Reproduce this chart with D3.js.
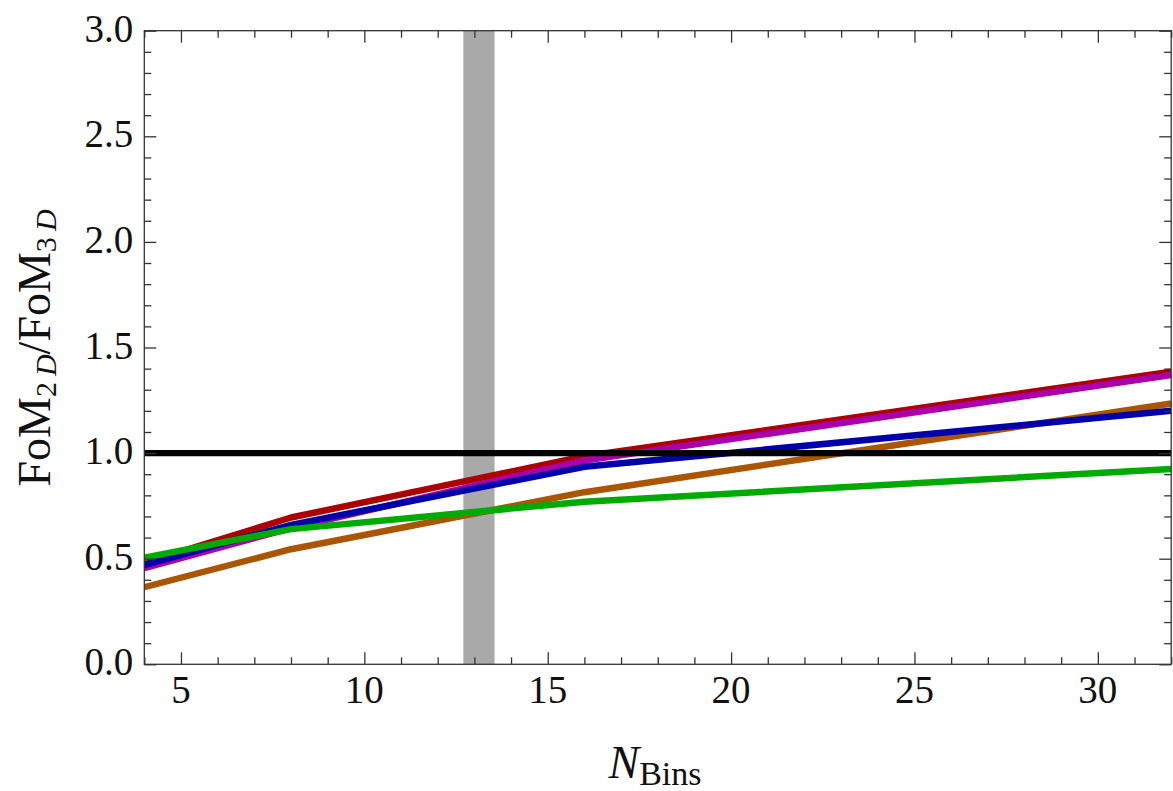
<!DOCTYPE html>
<html>
<head>
<meta charset="utf-8">
<script src="https://cdn.jsdelivr.net/npm/d3@7"></script>
<style>
  html, body { margin: 0; padding: 0; background: #fff; }
</style>
</head>
<body>
<svg id="chart" width="1173" height="791"></svg>
<script>
// Number of bins at which each ratio was evaluated
const nBins = [4, 8, 16, 32];

// FoM_2D / FoM_3D ratio for each configuration
const seriesRed     = [0.48, 0.695, 0.985, 1.385];
const seriesMagenta = [0.455, 0.645, 0.965, 1.37];
const seriesOrange  = [0.365, 0.545, 0.815, 1.235];
const seriesBlue    = [0.47, 0.66, 0.935, 1.20];
const seriesGreen   = [0.505, 0.64, 0.77, 0.925];

// Reference level (equal figures of merit)
const referenceLevel = 1.0;

// Shaded band in N_Bins
const bandRange = [12.7, 13.55];

// Axis domains and labelled ticks
const xDomain = [4, 32];
const yDomain = [0, 3];
const xTickLabels = [5, 10, 15, 20, 25, 30];
const yTickLabels = [0, 0.5, 1.0, 1.5, 2.0, 2.5, 3.0];

const series = [
  { values: seriesRed,     color: "#aa0000" },
  { values: seriesMagenta, color: "#aa00aa" },
  { values: seriesOrange,  color: "#aa5500" },
  { values: seriesBlue,    color: "#0000aa" },
  { values: seriesGreen,   color: "#00aa00" }
];

const FONT = "'Liberation Serif', Tinos, 'Times New Roman', Times, serif";
const plot = { left: 144.3, right: 1171.2, top: 30.7, bottom: 664.3 };

const svg = d3.select("#chart");
const x = d3.scaleLinear().domain(xDomain).range([plot.left, plot.right]);
const y = d3.scaleLinear().domain(yDomain).range([plot.bottom, plot.top]);

svg.append("defs").append("clipPath").attr("id", "plot-clip")
  .append("rect")
  .attr("x", plot.left).attr("y", plot.top)
  .attr("width", plot.right - plot.left).attr("height", plot.bottom - plot.top);

const g = svg.append("g").attr("clip-path", "url(#plot-clip)");

// grey band
g.append("rect")
  .attr("x", x(bandRange[0]))
  .attr("y", plot.top)
  .attr("width", x(bandRange[1]) - x(bandRange[0]))
  .attr("height", plot.bottom - plot.top)
  .attr("fill", "#a9a9a9");

// ratio curves
const line = d3.line().x((d, i) => x(nBins[i])).y(d => y(d));
series.forEach(s => {
  g.append("path")
    .datum(s.values)
    .attr("d", line)
    .attr("fill", "none")
    .attr("stroke", s.color)
    .attr("stroke-width", 6.5)
    .attr("stroke-linejoin", "round");
});

// reference line at 1
g.append("path")
  .datum(xDomain)
  .attr("d", d3.line().x(d => x(d)).y(() => y(referenceLevel)))
  .attr("stroke", "#000")
  .attr("stroke-width", 6.2)
  .attr("fill", "none");

// frame with inward ticks on all four sides
const frameColor = "#333";
const majorLen = 12, minorLen = 7;
const xMinor = d3.range(xDomain[0], xDomain[1] + 0.5, 1).filter(v => !xTickLabels.includes(v));
const yMinor = d3.range(0, 31, 1).map(v => v / 10).filter(v => !yTickLabels.some(t => Math.abs(t - v) < 1e-9));

function styleAxis(sel) {
  sel.select(".domain").remove();
  sel.selectAll(".tick line").attr("stroke", frameColor).attr("stroke-width", 1.3);
}

function ticks(axisFn, pos, values, len, horizontal) {
  svg.append("g")
    .attr("transform", horizontal ? `translate(0,${pos})` : `translate(${pos},0)`)
    .call(axisFn.tickValues(values).tickSize(-len).tickFormat(""))
    .call(styleAxis);
}
ticks(d3.axisBottom(x), plot.bottom, xTickLabels, majorLen, true);
ticks(d3.axisBottom(x), plot.bottom, xMinor, minorLen, true);
ticks(d3.axisTop(x), plot.top, xTickLabels, majorLen, true);
ticks(d3.axisTop(x), plot.top, xMinor, minorLen, true);
ticks(d3.axisLeft(y), plot.left, yTickLabels, majorLen, false);
ticks(d3.axisLeft(y), plot.left, yMinor, minorLen, false);
ticks(d3.axisRight(y), plot.right, yTickLabels, majorLen, false);
ticks(d3.axisRight(y), plot.right, yMinor, minorLen, false);

svg.append("rect")
  .attr("x", plot.left).attr("y", plot.top)
  .attr("width", plot.right - plot.left).attr("height", plot.bottom - plot.top)
  .attr("fill", "none").attr("stroke", frameColor).attr("stroke-width", 1.3);

// tick labels
const labelSize = 39;
svg.append("g").selectAll("text")
  .data(xTickLabels).join("text")
  .attr("x", d => x(d))
  .attr("y", plot.bottom + 39)
  .attr("text-anchor", "middle")
  .attr("font-family", FONT)
  .attr("font-size", labelSize)
  .attr("fill", "#111")
  .text(d => d3.format("d")(d));

svg.append("g").selectAll("text")
  .data(yTickLabels).join("text")
  .attr("x", plot.left - 11)
  .attr("y", d => y(d) + 11)
  .attr("text-anchor", "end")
  .attr("font-family", FONT)
  .attr("font-size", labelSize)
  .attr("fill", "#111")
  .text(d => d3.format(".1f")(d));

// axis titles
const titleSize = 46, subSize = 30;
const xTitle = svg.append("text")
  .attr("x", 655).attr("y", 778)
  .attr("text-anchor", "middle")
  .attr("font-family", FONT)
  .attr("font-size", titleSize)
  .attr("fill", "#111");
xTitle.append("tspan").attr("font-style", "italic").text("N");
xTitle.append("tspan").attr("font-size", 34).attr("dy", 7).text("Bins");

const yTitle = svg.append("text")
  .attr("transform", `translate(50,348) rotate(-90)`)
  .attr("text-anchor", "middle")
  .attr("font-family", FONT)
  .attr("font-size", titleSize)
  .attr("fill", "#111");
yTitle.append("tspan").text("FoM");
yTitle.append("tspan").attr("font-size", subSize).attr("dy", 6).text("2\u2009");
yTitle.append("tspan").attr("font-size", subSize).attr("font-style", "italic").text("D");
yTitle.append("tspan").attr("dy", -6).text("/FoM");
yTitle.append("tspan").attr("font-size", subSize).attr("dy", 6).text("3\u2009");
yTitle.append("tspan").attr("font-size", subSize).attr("font-style", "italic").text("D");
</script>
</body>
</html>
